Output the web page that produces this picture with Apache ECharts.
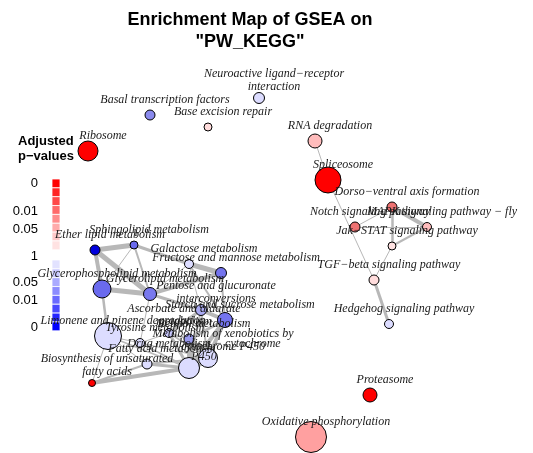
<!DOCTYPE html>
<html><head><meta charset="utf-8">
<script src="https://cdn.jsdelivr.net/npm/echarts@6/dist/echarts.min.js"></script>
<style>html,body{margin:0;padding:0;background:#fff}#c{width:533px;height:453px}</style>
</head><body><div id="c"></div>
<script>
// ---- data ----
const nodeNames = [
  'Neuroactive ligand\u2212receptor\ninteraction','Basal transcription factors','Base excision repair','RNA degradation',
  'Ribosome','Spliceosome','Dorso\u2212ventral axis formation','Notch signaling pathway',
  'MAPK signaling pathway \u2212 fly','Jak\u2212STAT signaling pathway','TGF\u2212beta signaling pathway','Hedgehog signaling pathway',
  'Proteasome','Oxidative phosphorylation','Ether lipid metabolism','Sphingolipid metabolism',
  'Galactose metabolism','Fructose and mannose metabolism','Glycerophospholipid metabolism','Glycerolipid metabolism',
  'Pentose and glucuronate\ninterconversions','Starch and sucrose metabolism','Ascorbate and aldarate\nmetabolism','Limonene and pinene degradation',
  'Tyrosine metabolism','Retinol metabolism','Metabolism of xenobiotics by\ncytochrome P450','Drug metabolism \u2212 cytochrome\nP450',
  'Fatty acid metabolism','Biosynthesis of unsaturated\nfatty acids'
];
// layout coordinates of the network (layout units)
const layoutX = [259,150,208,315, 88,328,392,355, 427,392,374,389, 370,311, 95,134, 189,221,102,150, 201,225,169,108, 140,189,208,189, 147, 92];
const layoutY = [ 98,115,127,141,151,180,207,227, 227,246,280,324, 395,437,250,245, 264,273,289,294, 310,320,333,336, 343,339,358,368, 364,383];
// gene set size -> node radius
const nodeRadius = [5.5,5,4,7, 10,13,5,5, 4.5,4,5,4.5, 7,15.5,5,4, 4.5,5.5,9,6.5, 5.5,7.5,4.5,13.5, 4.5,5,9.5,10.5, 5,3.5];
const nodeColor = ['#dcdcff','#8a8aee','#ffdcdc','#ffbcbc','#ff0000','#ff0000','#ee7272','#ee7272',
  '#ffbcbc','#ffe2e2','#ffdcdc','#dcdcff','#ff0000','#ffa0a0','#0000dd','#6a6aee',
  '#dcdcff','#7474ee','#6a6aee','#7878ee','#aaaaf2','#7474ee','#c8c8ff','#dcdcff',
  '#dcdcff','#9a9aee','#dcdcff','#dcdcff','#dcdcff','#ff0000'];
// edges: source, target, overlap weight
const edgeSource = [3,5,10,9,6,7,6,6,8, 14,14,14,15,15,15,18,18,19,19,19,19,16,16,16,17,20,20,20,20,21,21,21,22,22,22,25,25,26,23,23,23,23,28,28,28,29,24,24,24];
const edgeTarget = [5,10,11,10,7,8,8,9,9, 15,18,19,18,19,16,19,23,16,20,17,24,17,21,20,21,21,22,27,26,26,27,25,25,27,26,26,27,27,24,27,28,29,29,27,26,27,27,26,22];
const edgeWeight = [1,1,3,1,1,1,4,2.5,2, 5,4,5,1,2,3,5,2.5,1,3,4,1,5,2,1,2,4,3,2,2,4,4,3,2,3,2,5,5,8,1,1.5,1,1,2,3,2,4,1.5,1,1];
// legend
const legendTitle = 'Adjusted\np\u2212values';
const legendRed = ['#ff0000','#ff2424','#ff4848','#ff6a6a','#ff8c8c','#ffaaaa','#ffc8c8','#ffe2e2'];
const legendBlue = ['#e2e2ff','#c8c8ff','#aaaaff','#8c8cff','#6a6aff','#4848ff','#2424ff','#0000ff'];
const legendTickLabels = ['0','0.01','0.05','1','0.05','0.01','0'];
const legendTickY = [183,211,229,256,282,300,327];
const titleLines = ['Enrichment Map of GSEA on','"PW_KEGG"'];

// ---- chart ----
const chart = echarts.init(document.getElementById('c'), null, {renderer:'canvas'});
const labelBase = {show:true, position:'inside', formatter:'{b}', color:'#1a1a1a',
  fontFamily:'"Liberation Serif", "Times New Roman", serif', fontStyle:'italic', fontSize:12, lineHeight:13,
  align:'center', verticalAlign:'middle'};
const nodes = nodeNames.map((n,i)=>({
  name:n, value:[layoutX[i],layoutY[i]], symbolSize:nodeRadius[i]*2,
  itemStyle:{color:nodeColor[i]},
  label:Object.assign({}, labelBase, {offset:[15, n.indexOf('\n')>=0 ? -18 : -15]})
}));
const edges = edgeSource.map((s,i)=>({
  coords:[[layoutX[s],layoutY[s]],[layoutX[edgeTarget[i]],layoutY[edgeTarget[i]]]],
  lineStyle:{width:edgeWeight[i]}
}));
const graphics = [];
titleLines.forEach((t,i)=>graphics.push({type:'text', x:250, y:20+i*22, style:{text:t, font:'bold 18px "Liberation Sans", Arial, sans-serif', fill:'#000', textAlign:'center', textVerticalAlign:'middle'}}));
graphics.push({type:'text', left:18, top:134, style:{text:legendTitle, font:'bold 13px "Liberation Sans", Arial, sans-serif', fill:'#000', lineHeight:15}});
const boxH = 8.85;
legendRed.forEach((c,i)=>graphics.push({type:'rect', shape:{x:52,y:179+i*boxH,width:8,height:boxH}, style:{fill:c, stroke:'#fff', lineWidth:0.8}}));
legendBlue.forEach((c,i)=>graphics.push({type:'rect', shape:{x:52,y:260+i*boxH,width:8,height:boxH}, style:{fill:c, stroke:'#fff', lineWidth:0.8}}));
legendTickLabels.forEach((t,i)=>graphics.push({type:'text', x:38, y:legendTickY[i], style:{text:t, font:'13px "Liberation Sans", Arial, sans-serif', fill:'#000', textAlign:'right', textVerticalAlign:'middle'}}));

chart.setOption({
  animation:false,
  backgroundColor:'#fff',
  grid:{left:0,right:0,top:0,bottom:0},
  xAxis:{type:'value', min:0, max:533, show:false},
  yAxis:{type:'value', min:0, max:453, inverse:true, show:false},
  series:[
    {type:'lines', coordinateSystem:'cartesian2d', z:1, silent:true,
     lineStyle:{color:'#b8b8b8', opacity:1}, data:edges},
    {type:'scatter', z:2, symbol:'circle', data:nodes,
     itemStyle:{borderColor:'#000', borderWidth:1, opacity:1},
     label:Object.assign({}, labelBase, {offset:[15,-15]})}
  ],
  graphic:graphics
});
</script></body></html>
